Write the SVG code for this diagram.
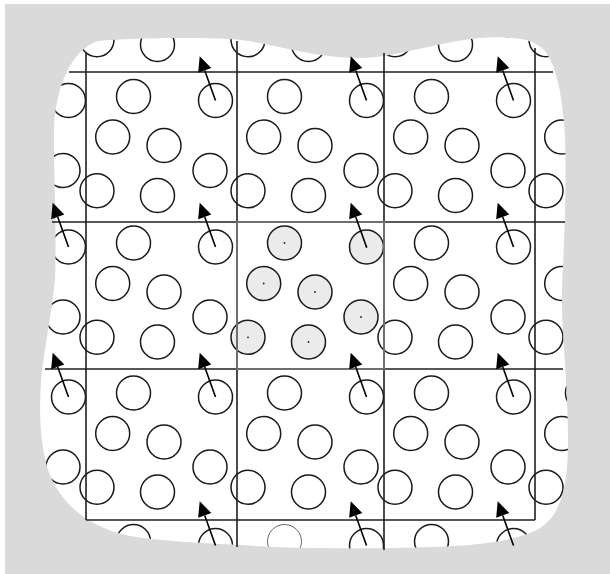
<svg xmlns="http://www.w3.org/2000/svg" xmlns:xlink="http://www.w3.org/1999/xlink" width="610" height="574" viewBox="0 0 610 574">
<style>
.p{fill:none;stroke:#1a1a1a;stroke-width:1.5}
.pc{fill:#ebebeb;stroke:#1a1a1a;stroke-width:1.5}
.pl{fill:none;stroke:#666;stroke-width:1}
.g{stroke:#1f1f1f;stroke-width:1.6;fill:none}
.ar{stroke:#000;stroke-width:1.6;fill:none;marker-end:url(#head)}
.dot{fill:#222}
</style>
<defs>
<path id="blob" d="M98,41 C130,38 190,37 230,39 C270,42 300,55 350,58 C390,60 430,43 480,38 C510,36 530,38 542,48 C555,60 562,90 565,135 C567,200 563,260 562,290 C561,330 568,380 568,440 C568,490 560,515 540,528 C525,537 505,541 470,545 C420,549 300,550 240,545 C200,543 160,541 130,536 C90,528 62,505 50,475 C40,450 38,410 42,370 C46,340 52,310 55,280 C57,220 53,160 54,130 C55,90 70,50 98,41 Z"/>
<clipPath id="clip"><use xlink:href="#blob"/></clipPath>
<marker id="head" markerUnits="userSpaceOnUse" viewBox="-1 -8 17 16" markerWidth="17" markerHeight="16" refX="0" refY="0" orient="auto" overflow="visible">
<path d="M0,-7 L15,0 L0,7 z" fill="#000"/>
</marker>
<g id="a"><circle class="p" cx="47.5" cy="23" r="17"/></g>
<g id="c6">
<circle class="p" cx="129.5" cy="27" r="17"/>
<circle class="p" cx="26.7" cy="63.5" r="17"/>
<circle class="p" cx="78" cy="72" r="17"/>
<circle class="p" cx="124" cy="97" r="17"/>
<circle class="p" cx="11" cy="117.3" r="17"/>
<circle class="p" cx="71.5" cy="122" r="17"/>
</g>
</defs>
<rect x="5" y="4" width="605" height="570" fill="#dadada"/>
<use xlink:href="#blob" fill="#fff"/>
<g id="images" clip-path="url(#clip)">
<g id="r0"><use xlink:href="#a" x="-61" y="-77.5"/><use xlink:href="#c6" x="-61" y="-77.5"/><use xlink:href="#a" x="86" y="-77.5"/><use xlink:href="#c6" x="86" y="-77.5"/><use xlink:href="#a" x="237" y="-77.5"/><use xlink:href="#c6" x="237" y="-77.5"/><use xlink:href="#a" x="384" y="-77.5"/><use xlink:href="#c6" x="384" y="-77.5"/><use xlink:href="#a" x="535" y="-77.5"/><use xlink:href="#c6" x="535" y="-77.5"/></g>
<g id="r1"><use xlink:href="#a" x="-61" y="73.5"/><use xlink:href="#c6" x="-61" y="73.5"/><use xlink:href="#a" x="86" y="73.5"/><use xlink:href="#c6" x="86" y="73.5"/><use xlink:href="#a" x="237" y="73.5"/><use xlink:href="#c6" x="237" y="73.5"/><use xlink:href="#a" x="384" y="73.5"/><use xlink:href="#c6" x="384" y="73.5"/><use xlink:href="#a" x="535" y="73.5"/><use xlink:href="#c6" x="535" y="73.5"/></g>
<g id="r2"><use xlink:href="#a" x="-61" y="220"/><use xlink:href="#c6" x="-61" y="220"/><use xlink:href="#a" x="86" y="220"/><use xlink:href="#c6" x="86" y="220"/><use xlink:href="#a" x="384" y="220"/><use xlink:href="#c6" x="384" y="220"/><use xlink:href="#a" x="535" y="220"/><use xlink:href="#c6" x="535" y="220"/></g>
<g id="r3"><use xlink:href="#a" x="-61" y="370"/><use xlink:href="#c6" x="-61" y="370"/><use xlink:href="#a" x="86" y="370"/><use xlink:href="#c6" x="86" y="370"/><use xlink:href="#a" x="237" y="370"/><use xlink:href="#c6" x="237" y="370"/><use xlink:href="#a" x="384" y="370"/><use xlink:href="#c6" x="384" y="370"/><use xlink:href="#a" x="535" y="370"/><use xlink:href="#c6" x="535" y="370"/></g>
<g id="r4"><use xlink:href="#a" x="-61" y="518.5"/><use xlink:href="#c6" x="-61" y="518.5"/><use xlink:href="#a" x="86" y="518.5"/><use xlink:href="#c6" x="86" y="518.5"/><circle class="pl" cx="284.5" cy="541.5" r="17"/><use xlink:href="#c6" x="237" y="518.5"/><use xlink:href="#a" x="384" y="518.5"/><use xlink:href="#c6" x="384" y="518.5"/><use xlink:href="#a" x="535" y="518.5"/><use xlink:href="#c6" x="535" y="518.5"/></g>
</g>
<g id="central-cell">
<circle class="pc" cx="284.5" cy="243" r="17"/>
<circle class="pc" cx="366.5" cy="247" r="17"/>
<circle class="pc" cx="263.7" cy="283.5" r="17"/>
<circle class="pc" cx="315" cy="292" r="17"/>
<circle class="pc" cx="361" cy="317" r="17"/>
<circle class="pc" cx="248" cy="337.3" r="17"/>
<circle class="pc" cx="308.5" cy="342" r="17"/>
</g>
<g id="grid">
<line class="g" x1="69" y1="72" x2="553" y2="72"/>
<line class="g" x1="52" y1="222" x2="565" y2="222"/>
<line class="g" x1="45" y1="369" x2="563" y2="369"/>
<line class="g" x1="86" y1="520" x2="535" y2="520"/>
<line class="g" x1="86" y1="53" x2="86" y2="520"/>
<line class="g" x1="237" y1="41" x2="237" y2="547"/>
<line class="g" x1="384" y1="53" x2="384" y2="550"/>
<line class="g" x1="535" y1="48" x2="535" y2="520"/>
<rect x="237" y="222" width="147" height="147" fill="none" stroke="#6e6e6e" stroke-width="2"/>
</g>
<g id="dots">
<circle class="dot" cx="284.5" cy="243" r="0.9"/>
<circle class="dot" cx="366.5" cy="247" r="0.9"/>
<circle class="dot" cx="263.7" cy="283.5" r="0.9"/>
<circle class="dot" cx="315" cy="292" r="0.9"/>
<circle class="dot" cx="361" cy="317" r="0.9"/>
<circle class="dot" cx="248" cy="337.3" r="0.9"/>
<circle class="dot" cx="308.5" cy="342" r="0.9"/>
</g>
<g id="connectors">
<line class="ar" x1="68.5" y1="247" x2="57.75" y2="216.9"/>
<line class="ar" x1="68.5" y1="397" x2="57.75" y2="366.9"/>
<line class="ar" x1="215.5" y1="100.5" x2="204.75" y2="70.4"/>
<line class="ar" x1="215.5" y1="247" x2="204.75" y2="216.9"/>
<line class="ar" x1="215.5" y1="397" x2="204.75" y2="366.9"/>
<line class="ar" x1="215.5" y1="545.5" x2="204.75" y2="515.4"/>
<line class="ar" x1="366.5" y1="100.5" x2="355.75" y2="70.4"/>
<line class="ar" x1="366.5" y1="247" x2="355.75" y2="216.9"/>
<line class="ar" x1="366.5" y1="397" x2="355.75" y2="366.9"/>
<line class="ar" x1="366.5" y1="545.5" x2="355.75" y2="515.4"/>
<line class="ar" x1="513.5" y1="100.5" x2="502.75" y2="70.4"/>
<line class="ar" x1="513.5" y1="247" x2="502.75" y2="216.9"/>
<line class="ar" x1="513.5" y1="397" x2="502.75" y2="366.9"/>
<line class="ar" x1="513.5" y1="545.5" x2="502.75" y2="515.4"/>
</g>
</svg>
